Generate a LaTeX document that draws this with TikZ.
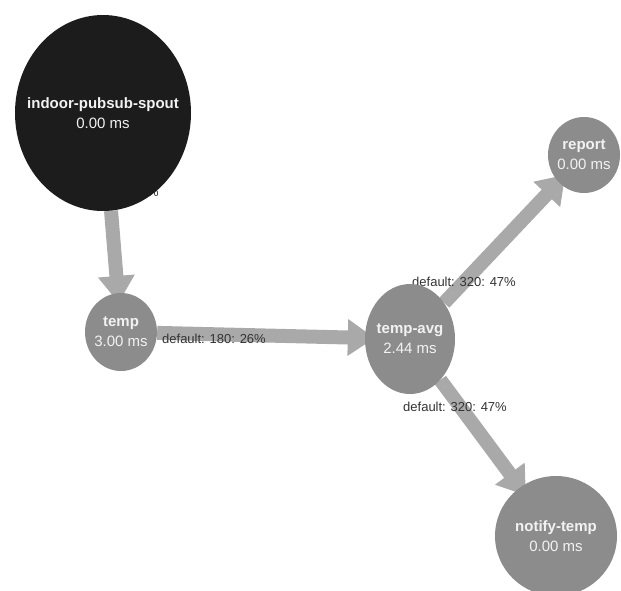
\documentclass[tikz,border=0pt]{standalone}
\usepackage{fontspec}
\setmainfont{Liberation Sans}
\usetikzlibrary{arrows.meta,shapes.geometric}
\definecolor{spoutfill}{HTML}{1C1C1C}
\definecolor{boltfill}{HTML}{8C8C8C}
\definecolor{edgecol}{HTML}{A9A9A9}
\definecolor{labelcol}{HTML}{333333}
\definecolor{nodetext}{HTML}{F2F2F2}
\pgfdeclarelayer{edges}
\pgfdeclarelayer{labels}
\pgfsetlayers{edges,labels,main}
\begin{document}
\begin{tikzpicture}[x=1pt,y=-1pt,
  comp/.style={ellipse, inner sep=0pt, fill=boltfill},
  spoutnode/.style={comp, fill=spoutfill},
  nodelbl/.style={text=nodetext, align=center, inner sep=0pt, font=\fontsize{15}{20}\selectfont},
  flow/.style={draw=edgecol, line width=14pt, -{Triangle[length=27pt,width=35pt]}, shorten >=-10pt},
  flowlabel/.style={text=labelcol, font=\fontsize{13}{15}\selectfont, inner sep=0pt}
]
\path[use as bounding box] (0,0) rectangle (621,590);

\node[spoutnode, minimum width=176pt, minimum height=196pt,
  label={[nodelbl]center:{\textbf{indoor-pubsub-spout}\\0.00 ms}}] (spout) at (103,113) {};
\node[comp, minimum width=72pt, minimum height=78pt,
  label={[nodelbl]center:{\textbf{temp}\\3.00 ms}}] (temp) at (121,332) {};
\node[comp, minimum width=90pt, minimum height=110pt,
  label={[nodelbl]center:{\textbf{temp-avg}\\2.44 ms}}] (tempavg) at (410,339) {};
\node[comp, minimum width=72pt, minimum height=76pt,
  label={[nodelbl]center:{\textbf{report}\\0.00 ms}}] (report) at (584,155) {};
\node[comp, minimum width=122pt, minimum height=120pt,
  label={[nodelbl]center:{\textbf{notify-temp}\\0.00 ms}}] (notify) at (556,536) {};

\begin{pgfonlayer}{edges}
\draw[flow] (spout) -- (temp);
\draw[flow] (temp) -- (tempavg);
\draw[flow] (tempavg) -- (report);
\draw[flow] (tempavg) -- (notify);
\end{pgfonlayer}

\begin{pgfonlayer}{labels}
\node[flowlabel, anchor=east] (lspout) at (159,192) {default: 180: 26\%};
\node[flowlabel, anchor=west] (ltemp) at (162,339) {default: 180: 26\%};
\node[flowlabel, anchor=west] (lreport) at (412,282) {default: 320: 47\%};
\node[flowlabel, anchor=west] (lnotify) at (403,407) {default: 320: 47\%};
\end{pgfonlayer}
\end{tikzpicture}
\end{document}
